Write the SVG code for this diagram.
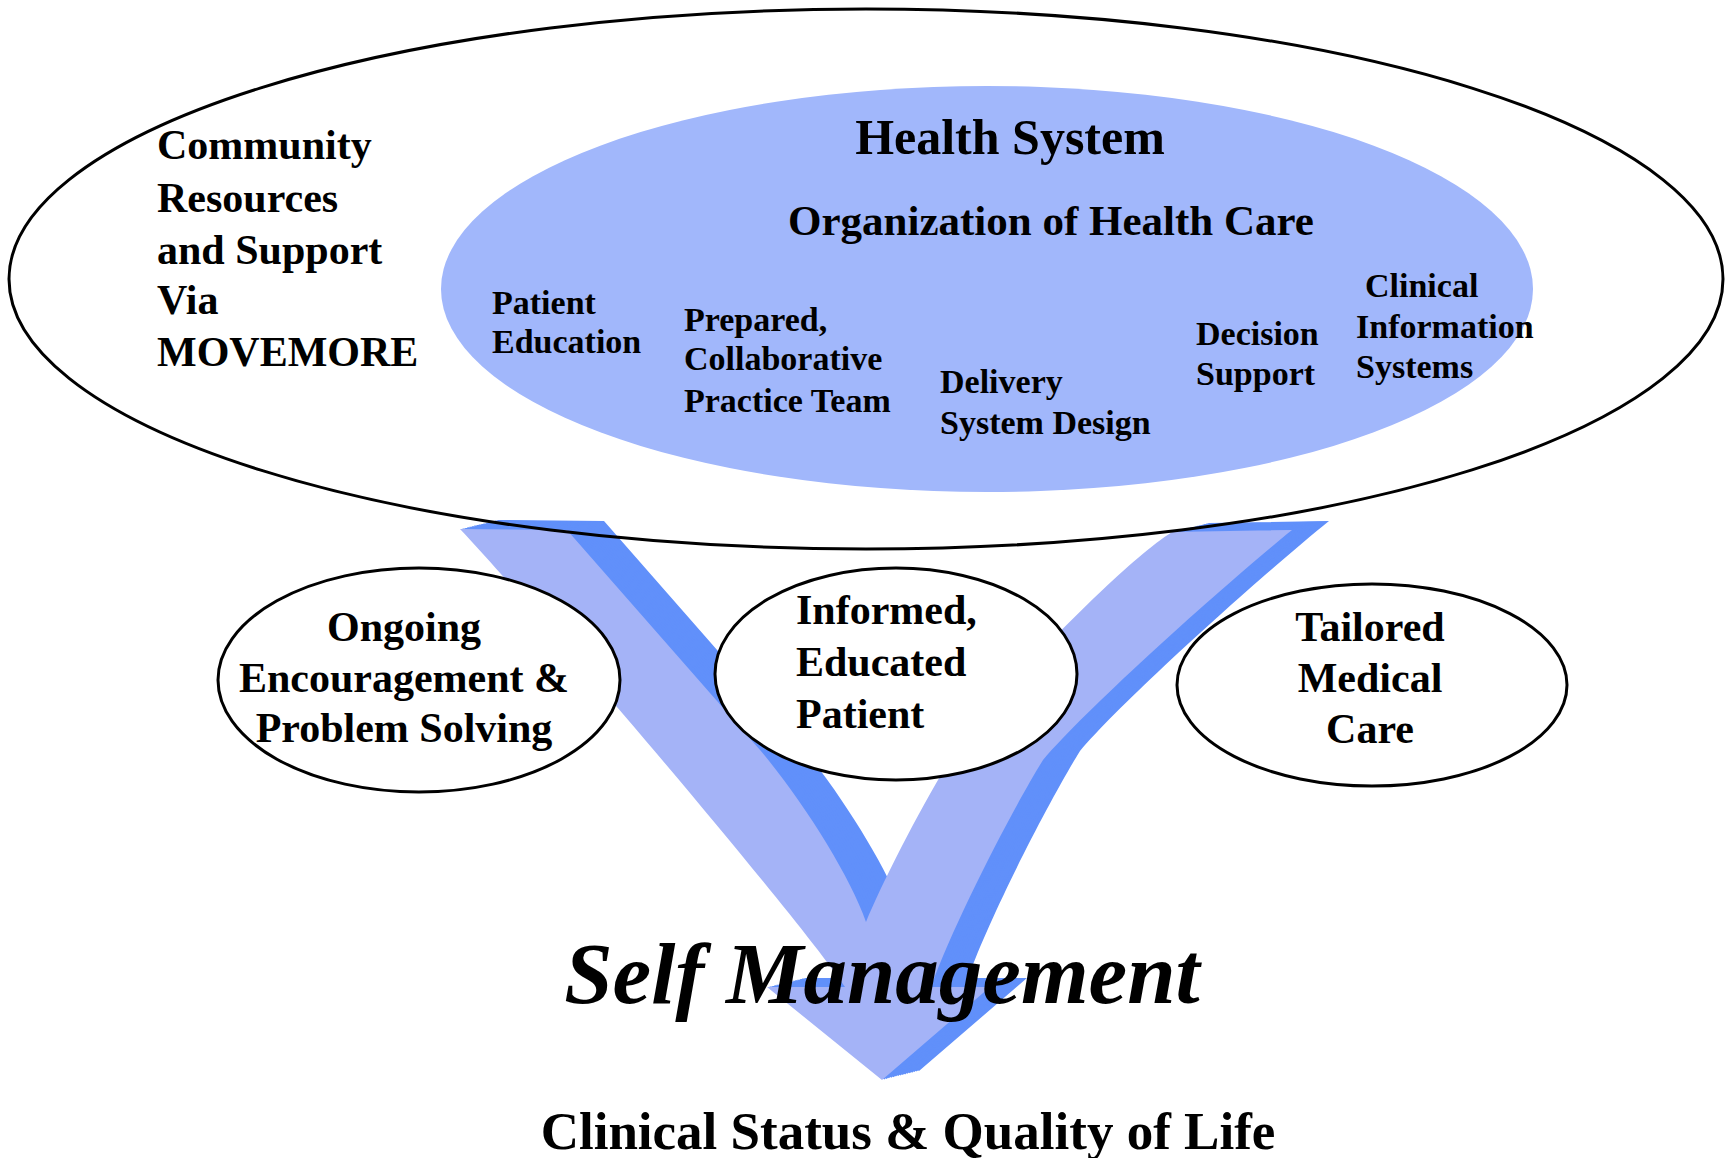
<svg xmlns="http://www.w3.org/2000/svg" xmlns:xlink="http://www.w3.org/1999/xlink" width="1729" height="1158" viewBox="0 0 1729 1158">
  <style>
    .t { font-family: "Liberation Serif", "Times New Roman", serif; font-weight: bold; fill: #000; }
    .big { font-size: 42px; }
    .small { font-size: 34px; }
    .node { fill: #fff; stroke: #000; stroke-width: 3; }
    .outline { fill: none; stroke: #000; stroke-width: 3; }
    .vlight { fill: #a4b3f7; }
    .vdark { fill: #6190fa; }
  </style>
  <defs>
    <!-- front face of the V that narrows into a downward arrow -->
    <path id="vshape" d="M460,529 L567,530 L760,750 C800,797 850,875 866,922 C885,875 945,760 974,725 C1010,682 1120,565 1172,532 L1292,530 C1230,580 1090,705 1043,760 C1015,805 955,920 931,987 L990,987 L882,1080 L767,987 L845,987 C800,920 560,636 460,529 Z"/>
  </defs>

  <!-- health system (inner shaded ellipse) -->
  <g id="health-system">
    <ellipse cx="987" cy="289" rx="546" ry="203" fill="#a1b7fb"/>
    <text class="t" x="1010" y="154" font-size="50" text-anchor="middle">Health System</text>
    <text class="t" x="1051" y="235" font-size="43" text-anchor="middle">Organization of Health Care</text>
  </g>

  <g id="patient-education">
    <text class="t small" x="492"><tspan x="492" y="314">Patient</tspan><tspan x="492" y="353">Education</tspan></text>
  </g>
  <g id="practice-team">
    <text class="t small"><tspan x="684" y="331">Prepared,</tspan><tspan x="684" y="370">Collaborative</tspan><tspan x="684" y="412">Practice Team</tspan></text>
  </g>
  <g id="delivery-design">
    <text class="t small"><tspan x="940" y="393">Delivery</tspan><tspan x="940" y="434">System Design</tspan></text>
  </g>
  <g id="decision-support">
    <text class="t small"><tspan x="1196" y="345">Decision</tspan><tspan x="1196" y="385">Support</tspan></text>
  </g>
  <g id="clinical-info">
    <text class="t small"><tspan x="1365" y="297">Clinical</tspan><tspan x="1356" y="338">Information</tspan><tspan x="1356" y="378">Systems</tspan></text>
  </g>

  <!-- extruded V: shadow swept along the depth offset, then the front face -->
  <g id="connectors">
    <g class="vdark">
      <use xlink:href="#vshape" transform="translate(37,-9)"/>
      <use xlink:href="#vshape" transform="translate(34.7,-8.4)"/>
      <use xlink:href="#vshape" transform="translate(32.4,-7.9)"/>
      <use xlink:href="#vshape" transform="translate(30.1,-7.3)"/>
      <use xlink:href="#vshape" transform="translate(27.8,-6.8)"/>
      <use xlink:href="#vshape" transform="translate(25.4,-6.2)"/>
      <use xlink:href="#vshape" transform="translate(23.1,-5.6)"/>
      <use xlink:href="#vshape" transform="translate(20.8,-5.1)"/>
      <use xlink:href="#vshape" transform="translate(18.5,-4.5)"/>
      <use xlink:href="#vshape" transform="translate(16.2,-3.9)"/>
      <use xlink:href="#vshape" transform="translate(13.9,-3.4)"/>
      <use xlink:href="#vshape" transform="translate(11.6,-2.8)"/>
      <use xlink:href="#vshape" transform="translate(9.3,-2.3)"/>
      <use xlink:href="#vshape" transform="translate(6.9,-1.7)"/>
      <use xlink:href="#vshape" transform="translate(4.6,-1.1)"/>
      <use xlink:href="#vshape" transform="translate(2.3,-0.6)"/>
    </g>
    <use xlink:href="#vshape" class="vlight"/>
  </g>

  <!-- community (outer ring) -->
  <g id="community">
    <ellipse class="outline" cx="866" cy="279" rx="857" ry="270"/>
    <text class="t big"><tspan x="157" y="159">Community</tspan><tspan x="157" y="212">Resources</tspan><tspan x="157" y="264">and Support</tspan><tspan x="157" y="314">Via</tspan><tspan x="157" y="366">MOVEMORE</tspan></text>
  </g>

  <g id="encouragement">
    <ellipse class="node" cx="419" cy="680" rx="201" ry="112"/>
    <text class="t big" text-anchor="middle"><tspan x="404" y="641">Ongoing</tspan><tspan x="404" y="692">Encouragement &amp;</tspan><tspan x="404" y="742">Problem Solving</tspan></text>
  </g>
  <g id="informed-patient">
    <ellipse class="node" cx="896" cy="674" rx="181" ry="106"/>
    <text class="t big"><tspan x="796" y="624">Informed,</tspan><tspan x="796" y="676">Educated</tspan><tspan x="796" y="728">Patient</tspan></text>
  </g>
  <g id="tailored-care">
    <ellipse class="node" cx="1372" cy="685" rx="195" ry="101"/>
    <text class="t big" text-anchor="middle"><tspan x="1370" y="641">Tailored</tspan><tspan x="1370" y="692">Medical</tspan><tspan x="1370" y="743">Care</tspan></text>
  </g>

  <g id="self-management">
    <text class="t" x="882" y="1003" font-size="87" font-style="italic" text-anchor="middle">Self Management</text>
  </g>
  <g id="outcome">
    <text class="t" x="908" y="1149" font-size="53" text-anchor="middle">Clinical Status &amp; Quality of Life</text>
  </g>
</svg>
